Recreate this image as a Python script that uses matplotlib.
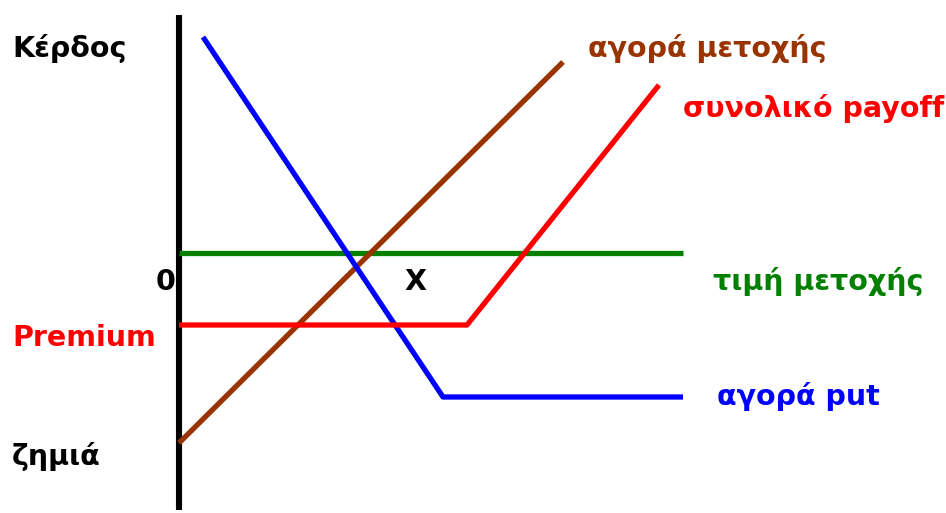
import matplotlib
matplotlib.use('Agg')
import matplotlib.pyplot as plt

## data (x = stock price, y = profit / loss) ##
price_x = [0, 504]
price_y = [0, 0]
put_x = [24, 264, 504]
put_y = [216, -144, -144]
stock_x = [0, 384]
stock_y = [-190, 191]
total_x = [0, 288, 480]
total_y = [-72, -72, 168]
axis_y = [238, -257]

labels = {
    'Κέρδος': (-167, 196, 'black', 'left'),
    'ζημιά': (-167, -212, 'black', 'left'),
    'Premium': (-167, -93, '#ff0000', 'left'),
    '0': (-13, -37, 'black', 'center'),
    'X': (236, -37, 'black', 'center'),
    'αγορά μετοχής': (409, 196, '#993300', 'left'),
    'συνολικό payoff': (504, 136, '#ff0000', 'left'),
    'τιμή μετοχής': (534, -37, '#008000', 'left'),
    'αγορά put': (538, -152, '#0000ff', 'left'),
}

fig = plt.figure(figsize=(9.46, 5.13), dpi=100)
ax = fig.add_axes([0, 0, 1, 1])
ax.set_xlim(-179, 767)
ax.set_ylim(-260, 253)
ax.axis('off')

lw = 3.8
ax.plot([0, 0], axis_y, color='black', lw=4.4, solid_capstyle='butt')
ax.plot(price_x, price_y, color='#008000', lw=lw, solid_capstyle='butt')
ax.plot(stock_x, stock_y, color='#993300', lw=lw, solid_capstyle='butt')
ax.plot(put_x, put_y, color='#0000ff', lw=lw, solid_capstyle='butt')
ax.plot(total_x, total_y, color='#ff0000', lw=lw, solid_capstyle='butt')

for txt, (x, y, c, ha) in labels.items():
    ax.text(x, y, txt, color=c, ha=ha, va='baseline', fontsize=20.5,
            fontweight='bold', family='DejaVu Sans')

fig.savefig('out.png', dpi=100, facecolor='white')
